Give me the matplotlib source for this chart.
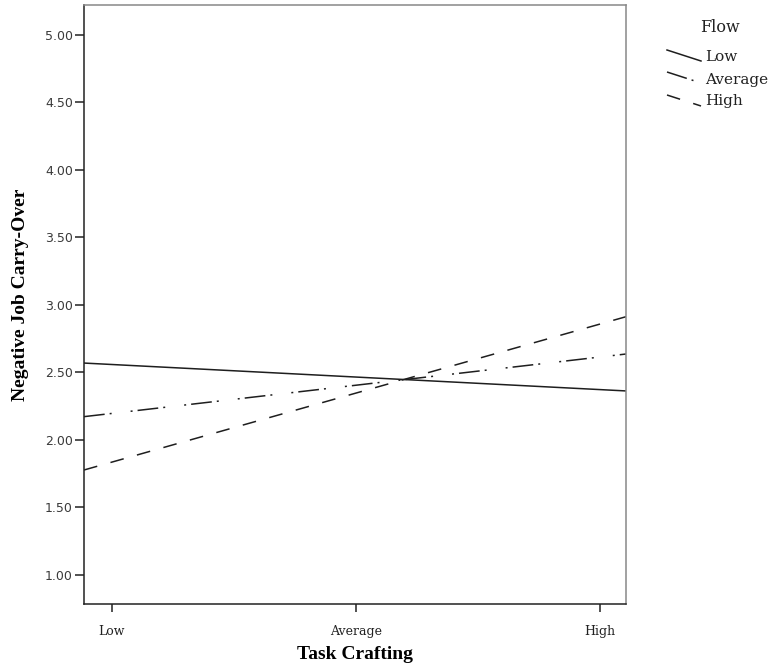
import numpy as np
import matplotlib
matplotlib.use("Agg")
import matplotlib.pyplot as plt
from matplotlib.lines import Line2D

# ---- data ----
x_categories = ["Low", "Average", "High"]
x_positions = [-1, 0, 1]
series_names = ["Low", "Average", "High"]
flow_low = [2.558, 2.465, 2.372]
flow_average = [2.195, 2.404, 2.613]
flow_high = [1.834, 2.345, 2.857]
y_ticks = [1.0, 1.5, 2.0, 2.5, 3.0, 3.5, 4.0, 4.5, 5.0]

W, H = 772, 667
fig = plt.figure(figsize=(W / 100, H / 100), dpi=100)
ax_l, ax_r, ax_t, ax_b = 84, 626, 5, 604
ax = fig.add_axes([ax_l / W, 1 - ax_b / H, (ax_r - ax_l) / W, (ax_b - ax_t) / H])

xlim = (-1.113, 1.108)
ylim = (0.783, 5.222)
ax.set_xlim(*xlim)
ax.set_ylim(*ylim)

line_col = "#1e1e1e"
styles = [
    dict(linestyle="-"),
    dict(linestyle=(0, (13.6, 3.3, 1.3, 12.5, 1.3, 3.3))),
    dict(linestyle=(0, (9, 9))),
]
all_series = [flow_low, flow_average, flow_high]
xs = np.array(xlim)
for vals, st in zip(all_series, styles):
    k, b = np.polyfit(x_positions, vals, 1)
    ax.plot(xs, k * xs + b, color=line_col, lw=1.1, **st)

ax.set_yticks(y_ticks)
ax.set_yticklabels([f"{v:.2f}" for v in y_ticks], fontfamily="DejaVu Sans",
                   fontsize=9, color="#3a3a3a")
ax.set_xticks(x_positions)
ax.set_xticklabels(x_categories, fontfamily="DejaVu Serif", fontsize=9, color="#222222")
ax.tick_params(axis="y", length=6.5, width=1.1, pad=1.5, color="#222222")
ax.tick_params(axis="x", length=6, width=1.1, pad=9, color="#222222")

for side in ["left", "bottom"]:
    ax.spines[side].set_color("#222222")
    ax.spines[side].set_linewidth(1.1)
for side in ["top", "right"]:
    ax.spines[side].set_color("#888888")
    ax.spines[side].set_linewidth(1.1)

ax.set_xlabel("Task Crafting", fontfamily="Liberation Serif", fontweight="bold",
              fontsize=14, labelpad=6)
fig.text(21 / W, 1 - 295 / H, "Negative Job Carry-Over", rotation=90,
         fontfamily="Liberation Serif", fontweight="bold", fontsize=14,
         ha="center", va="center")

# ---- legend (manual, SPSS style) ----
def px(x, y):
    return x / W, 1 - y / H

fig.text(*px(720, 27), "Flow", fontfamily="DejaVu Serif", fontsize=11.5,
         ha="center", va="center", color="#222222")
leg_rows = [(50, 56.7), (72, 80), (95, 100.7)]
for name, st, (ly, ty) in zip(series_names, styles, leg_rows):
    (x0, y0), (x1, y1) = px(667, ly), px(701, ly + 11)
    fig.add_artist(Line2D([x0, x1], [y0, y1], transform=fig.transFigure,
                          color=line_col, lw=1.1, **st))
    fig.text(*px(705, ty), name, fontfamily="DejaVu Serif", fontsize=11,
             ha="left", va="center", color="#222222")

fig.savefig("out.png", dpi=100)
